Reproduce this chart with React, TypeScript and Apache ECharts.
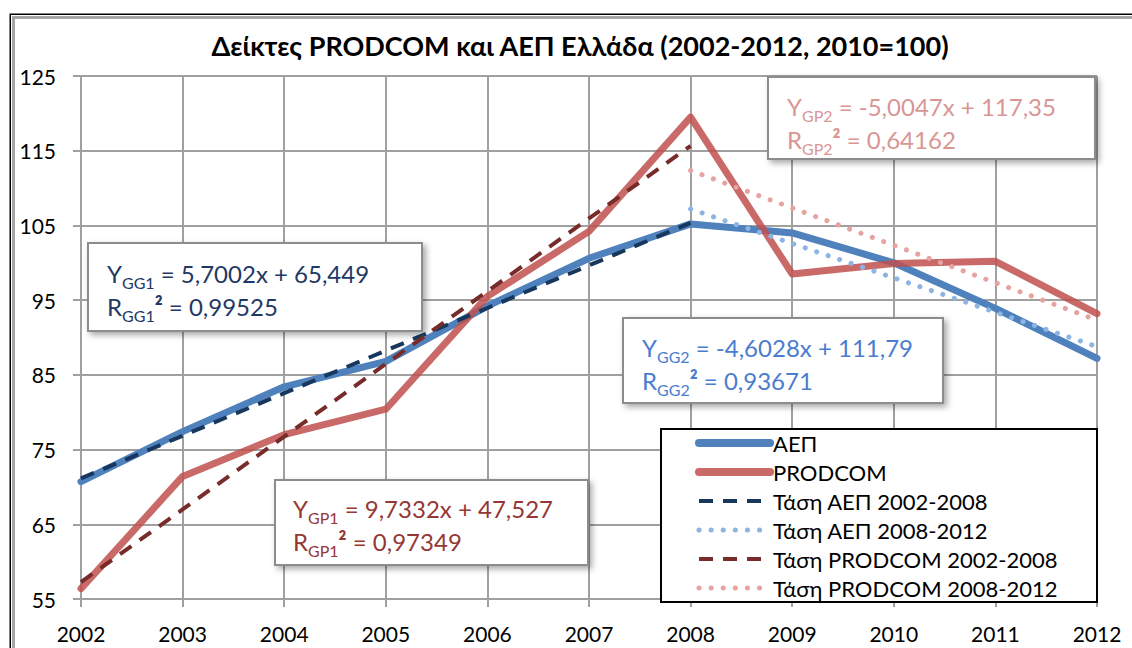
import React, { useEffect, useRef } from "react";
import * as echarts from "echarts";

const years = ["2002", "2003", "2004", "2005", "2006", "2007", "2008", "2009", "2010", "2011", "2012"];
const aep = [70.7, 77.4, 83.4, 86.8, 94.2, 100.6, 105.2, 104.0, 100.0, 93.9, 87.2];
const prodcom = [56.4, 71.4, 77.0, 80.4, 95.5, 104.2, 119.5, 98.5, 99.9, 100.2, 93.2];
const trendAep1 = [71.15, 76.85, 82.55, 88.25, 93.95, 99.65, 105.35, null, null, null, null];
const trendAep2 = [null, null, null, null, null, null, 107.19, 102.58, 97.98, 93.38, 88.78];
const trendProd1 = [57.26, 66.99, 76.73, 86.46, 96.19, 105.93, 115.66, null, null, null, null];
const trendProd2 = [null, null, null, null, null, null, 112.35, 107.34, 102.34, 97.33, 92.33];
const yTicks = { min: 55, max: 125, interval: 10 };

const seriesNames = [
  "ΑΕΠ",
  "PRODCOM",
  "Τάση ΑΕΠ 2002-2008",
  "Τάση ΑΕΠ 2008-2012",
  "Τάση PRODCOM 2002-2008",
  "Τάση PRODCOM 2008-2012",
];

const eqBoxes = [
  { sub: "GG1", eq: " = 5,7002x + 65,449", r2: " = 0,99525", color: "#1f3864", box: [88, 243, 334, 88], tx: 107, ty: 257 },
  { sub: "GP1", eq: " = 9,7332x + 47,527", r2: " = 0,97349", color: "#953735", box: [275, 480, 313, 85], tx: 293, ty: 492 },
  { sub: "GG2", eq: " = -4,6028x + 111,79", r2: " = 0,93671", color: "#4a7ccf", box: [623, 318, 320, 85], tx: 642, ty: 331 },
  { sub: "GP2", eq: " = -5,0047x + 117,35", r2: " = 0,64162", color: "#d99694", box: [768, 77, 327, 82], tx: 787, ty: 90 },
];

const FONT = "Lato";

export default function App() {
  const ref = useRef<HTMLDivElement>(null);
  useEffect(() => {
    if (!ref.current) return;
    const chart = echarts.init(ref.current, null, { renderer: "svg" });

    const graphics: any[] = [
      {
        type: "rect",
        z: 1,
        shape: { x: 10.25, y: 14.25, width: 1200, height: 700 },
        style: { fill: "none", stroke: "#000", lineWidth: 1.5 },
        silent: true,
      },
      {
        type: "rect",
        z: 1,
        shape: { x: 13.5, y: 17.5, width: 1200, height: 700 },
        style: { fill: "none", stroke: "#a6a6a6", lineWidth: 3 },
        silent: true,
      },
      {
        type: "rect",
        z: 3,
        shape: { x: 661, y: 429, width: 436, height: 173 },
        style: { fill: "#fff", stroke: "#000", lineWidth: 2 },
        silent: true,
      },
    ];

    eqBoxes.forEach((b) => {
      const c = b.color;
      graphics.push({
        type: "rect",
        z: 3,
        shape: { x: b.box[0], y: b.box[1], width: b.box[2], height: b.box[3] },
        style: {
          fill: "#fff",
          stroke: "#8c8c8c",
          lineWidth: 2,
          shadowBlur: 6,
          shadowOffsetX: 3,
          shadowOffsetY: 3,
          shadowColor: "rgba(0,0,0,0.35)",
        },
        silent: true,
      });
      graphics.push({
        type: "text",
        z: 4,
        x: b.tx,
        y: b.ty,
        style: {
          text: `{n|Y}{s|${b.sub}}{n|${b.eq}}\n{n|R}{s|${b.sub}}{p|²}{n|${b.r2}}`,
          fill: c,
          verticalAlign: "top",
          rich: {
            n: { fontSize: 24, fontFamily: FONT, fill: c, lineHeight: 33, verticalAlign: "middle" },
            s: { fontSize: 16, fontFamily: FONT, fill: c, lineHeight: 33, verticalAlign: "bottom" },
            p: { fontSize: 24, fontFamily: FONT, fontWeight: "bold", fill: c, lineHeight: 33, verticalAlign: "middle" },
          },
        },
        silent: true,
      });
    });

    const lineSeries = (name: string, data: any[], color: string, width: number, type: any, cap: any, opacity = 1) => ({
      name,
      type: "line",
      data,
      symbol: "none",
      connectNulls: false,
      lineStyle: { color, width, type, cap, opacity, join: "round" },
      itemStyle: { color },
      emphasis: { disabled: true },
    });

    const hidden = { opacity: 0, borderWidth: 0 };

    chart.setOption({
      animation: false,
      title: {
        text: "Δείκτες PRODCOM και ΑΕΠ Ελλάδα (2002-2012, 2010=100)",
        left: 575,
        textAlign: "center",
        top: 27,
        textStyle: { fontFamily: FONT, fontWeight: "bold", fontSize: 27, color: "#000" },
      },
      grid: { left: 81, right: 35, top: 76, bottom: 49, containLabel: false },
      legend: {
        orient: "vertical",
        left: 695,
        top: 432,
        padding: 0,
        itemWidth: 71,
        itemHeight: 20,
        itemGap: 7,
        z: 5,
        selectedMode: false,
        itemStyle: hidden,
        textStyle: { fontFamily: FONT, fontSize: 22, color: "#000", padding: [0, 0, 0, -2] },
        data: [
          { name: seriesNames[0], itemStyle: hidden, lineStyle: { width: 8, cap: "round" } },
          { name: seriesNames[1], itemStyle: hidden, lineStyle: { width: 8, cap: "round" } },
          { name: seriesNames[2], itemStyle: hidden, lineStyle: { width: 4 } },
          { name: seriesNames[3], itemStyle: hidden, lineStyle: { width: 5 } },
          { name: seriesNames[4], itemStyle: hidden, lineStyle: { width: 4 } },
          { name: seriesNames[5], itemStyle: hidden, lineStyle: { width: 5 } },
        ],
      },
      xAxis: {
        type: "category",
        data: years,
        boundaryGap: false,
        axisLine: { show: true, lineStyle: { color: "#a0a0a0", width: 2 } },
        axisTick: { show: true, length: 8, lineStyle: { color: "#a0a0a0", width: 2 } },
        axisLabel: { fontFamily: FONT, fontSize: 21, color: "#000", margin: 24 },
        splitLine: { show: true, lineStyle: { color: "#a0a0a0", width: 2 } },
      },
      yAxis: {
        type: "value",
        min: yTicks.min,
        max: yTicks.max,
        interval: yTicks.interval,
        axisLine: { show: true, lineStyle: { color: "#a0a0a0", width: 2 } },
        axisTick: { show: true, length: 8, lineStyle: { color: "#a0a0a0", width: 2 } },
        axisLabel: { fontFamily: FONT, fontSize: 21, color: "#000", margin: 25 },
        splitLine: { show: true, lineStyle: { color: "#a0a0a0", width: 2 } },
      },
      graphic: graphics,
      series: [
        lineSeries(seriesNames[0], aep, "#4f81bd", 7, "solid", "round"),
        lineSeries(seriesNames[1], prodcom, "#c0504d", 7, "solid", "round", 0.85),
        lineSeries(seriesNames[2], trendAep1, "#17375e", 4, [14, 10], "butt"),
        lineSeries(seriesNames[3], trendAep2, "#8db4e2", 5, [0.1, 12], "round"),
        lineSeries(seriesNames[4], trendProd1, "#772c2a", 4, [14, 10], "butt"),
        lineSeries(seriesNames[5], trendProd2, "#e6a3a1", 5, [0.1, 12], "round"),
      ],
    });

    return () => chart.dispose();
  }, []);

  return (
    <div
      ref={ref}
      style={{ position: "fixed", left: 0, top: 0, width: 1132, height: 648, background: "#fff" }}
    />
  );
}
